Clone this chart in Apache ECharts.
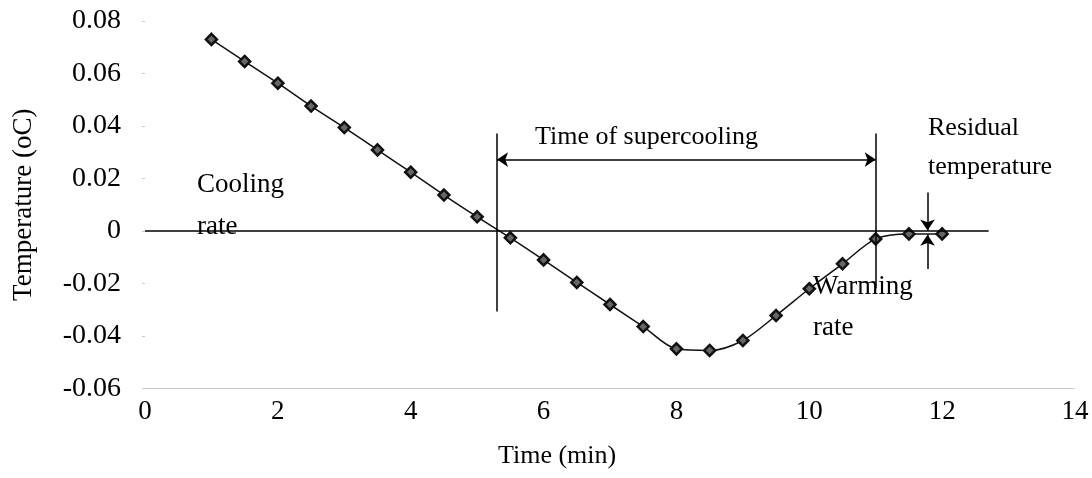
<!DOCTYPE html>
<html><head><meta charset="utf-8">
<script src="https://cdn.jsdelivr.net/npm/echarts@6/dist/echarts.min.js"></script>
<style>html,body{margin:0;padding:0;background:#fff}#c{width:1092px;height:478px}</style>
</head><body><div id="c"></div>
<script>
const timeMin = [1,1.5,2,2.5,3,3.5,4,4.5,5,5.5,6,6.5,7,7.5,8,8.5,9,9.5,10,10.5,11,11.5,12];
const temperature = [0.0730,0.0646,0.0563,0.0476,0.0394,0.0309,0.0224,0.0137,0.0054,-0.0026,-0.0110,-0.0196,-0.0280,-0.0364,-0.0449,-0.0455,-0.0417,-0.0322,-0.0220,-0.0125,-0.0030,-0.0011,-0.0011];
const xTicks = [0,2,4,6,8,10,12,14];
const yTicks = [-0.06,-0.04,-0.02,0,0.02,0.04,0.06,0.08];
const supercoolStart = 5.3, supercoolEnd = 11;
const residualX = 11.78, residualLevel = -0.0011;

const FONT = "'Liberation Serif','Times New Roman',serif";
const chart = echarts.init(document.getElementById('c'), null, {renderer:'canvas'});
const lineSt = {color:'#000', width:1.5, type:'solid'};
const seg = (a,b,sym) => [{coord:a, symbol:sym?sym[0]:'none'},{coord:b, symbol:sym?sym[1]:'none'}];
chart.setOption({
  animation:false,
  grid:{left:145,right:17,top:21,bottom:89.5,containLabel:false},
  xAxis:{type:'value',min:xTicks[0],max:xTicks[xTicks.length-1],interval:2,
    axisLine:{show:true,onZero:false,lineStyle:{color:'#bbb',type:'dotted',width:1}},
    axisTick:{show:false},splitLine:{show:false},
    axisLabel:{color:'#000',fontFamily:FONT,fontSize:27,margin:10}},
  yAxis:{type:'value',min:yTicks[0],max:yTicks[yTicks.length-1],interval:0.02,
    axisLine:{show:false},axisTick:{show:true,length:3,lineStyle:{color:'#ccc'}},splitLine:{show:false},
    axisLabel:{color:'#000',fontFamily:FONT,fontSize:28,margin:24,
      formatter:v=>Math.abs(v)<1e-9?'0':v.toFixed(2)},
    name:'Temperature (oC)',nameLocation:'middle',nameGap:108,
    nameTextStyle:{color:'#000',fontFamily:FONT,fontSize:27}},
  series:[{
    type:'line',data:timeMin.map((t,i)=>[t,temperature[i]]),smooth:0.3,
    lineStyle:{color:'#111',width:1.5},
    symbol:'diamond',symbolSize:11,
    itemStyle:{color:'#666',borderColor:'#111',borderWidth:2.5},
    markLine:{silent:true,symbol:'none',symbolSize:11,lineStyle:lineSt,label:{show:false},
      data:[
        seg([0,0],[12.7,0]),
        seg([supercoolStart,0.0371],[supercoolStart,-0.0307]),
        seg([supercoolEnd,0.0371],[supercoolEnd,-0.0219]),
        seg([supercoolStart,0.0272],[supercoolEnd,0.0272],['arrow','arrow']),
        seg([residualX,0.0147],[residualX,0.0002],['none','arrow']),
        seg([residualX,-0.0145],[residualX,residualLevel-0.0003],['none','arrow'])
      ]}
  }],
  graphic:[
    {type:'text',left:498,top:443,style:{text:'Time (min)',font:"26px "+FONT,fill:'#000'}},
    {type:'text',left:197,top:164,style:{text:'Cooling\nrate',font:"27px "+FONT,fill:'#000',lineHeight:42}},
    {type:'text',left:535,top:124,style:{text:'Time of supercooling',font:"26px "+FONT,fill:'#000'}},
    {type:'text',left:813,top:266,style:{text:'Warming\nrate',font:"27px "+FONT,fill:'#000',lineHeight:41}},
    {type:'text',left:928,top:109,style:{text:'Residual\ntemperature',font:"26px "+FONT,fill:'#000',lineHeight:39}}
  ]
});
</script></body></html>
